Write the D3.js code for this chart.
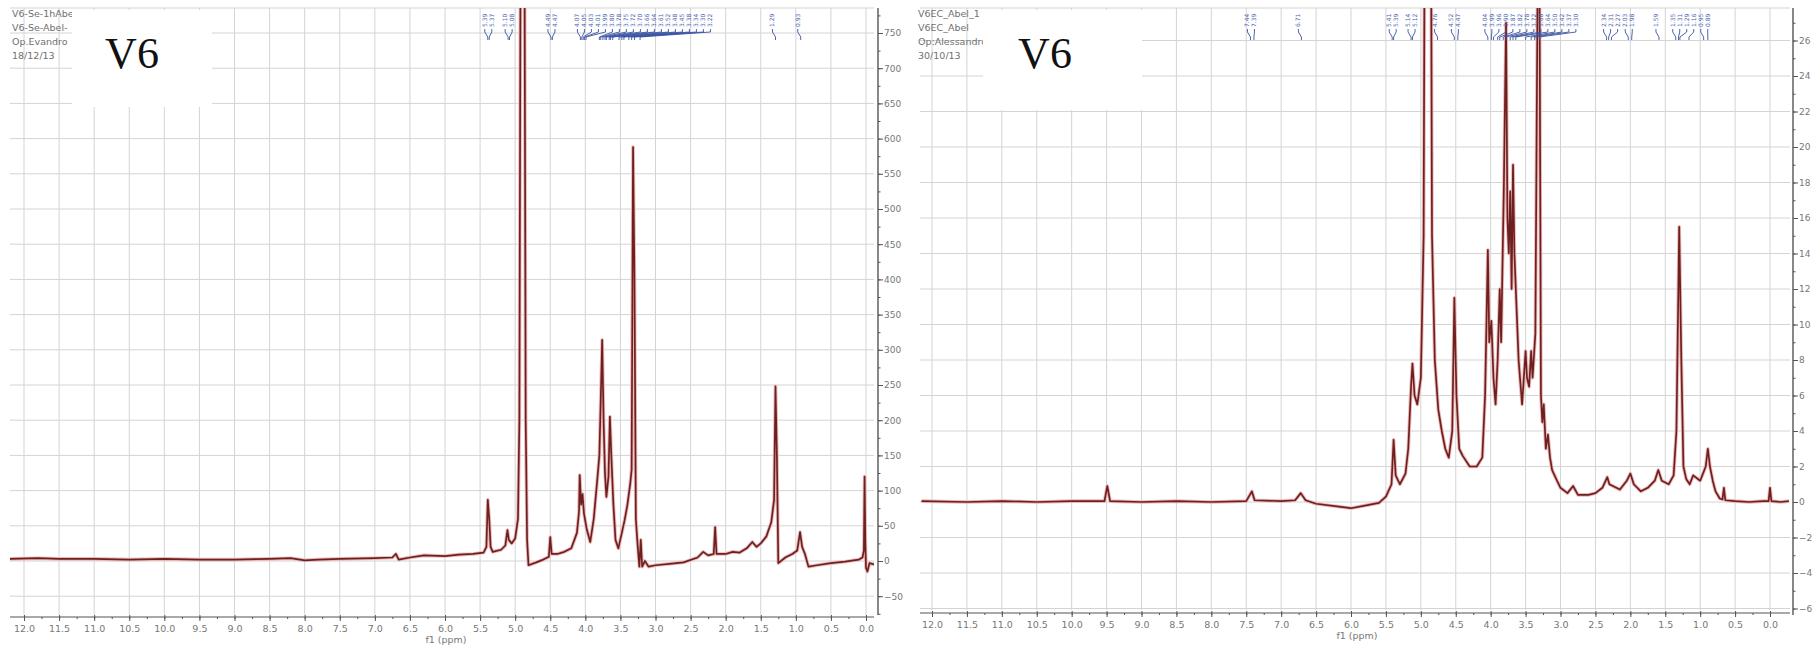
<!DOCTYPE html>
<html>
<head>
<meta charset="utf-8">
<script src="https://cdn.jsdelivr.net/npm/d3@7"></script>
<style>
    html, body { margin: 0; padding: 0; background: #fff; }
    svg { display: block; }
</style>
</head>
<body>
<div id="chart"></div>
<script>
// ---- data (ppm, intensity) ----

// left spectrum, intensity axis -50..750
const leftSpectrum = [
    [12.2, 3], [11.8, 4], [11.5, 3], [11.0, 3], [10.5, 2], [10.0, 3], [9.5, 2], [9.0, 2],
    [8.5, 3], [8.2, 4], [8.0, 1], [7.8, 2], [7.5, 3], [7.0, 4], [6.75, 5], [6.7, 10],
    [6.66, 2], [6.5, 5], [6.3, 8], [6.0, 7], [5.8, 9], [5.6, 10], [5.45, 12], [5.41, 20],
    [5.39, 87], [5.37, 60], [5.35, 20], [5.32, 13], [5.2, 16], [5.14, 22], [5.11, 44],
    [5.09, 30], [5.05, 25], [5.0, 32], [4.96, 60], [4.94, 200], [4.92, 1000], [4.87, 1000],
    [4.85, 200], [4.83, 30], [4.81, -6], [4.7, -2], [4.6, 2], [4.52, 6], [4.5, 34], [4.48, 10],
    [4.4, 10], [4.3, 13], [4.2, 18], [4.12, 40], [4.09, 70], [4.08, 122], [4.06, 80], [4.04, 95],
    [4.02, 68], [3.98, 45], [3.93, 27], [3.88, 60], [3.83, 115], [3.80, 150], [3.78, 230],
    [3.76, 314], [3.74, 200], [3.72, 125], [3.70, 91], [3.67, 120], [3.65, 205], [3.63, 150],
    [3.60, 80], [3.57, 30], [3.53, 18], [3.48, 40], [3.44, 58], [3.40, 80], [3.36, 110],
    [3.34, 130], [3.32, 588], [3.30, 400], [3.28, 60], [3.26, 30], [3.23, -8], [3.21, 30],
    [3.19, -8], [3.15, 0], [3.10, -8], [3.0, -6], [2.8, -4], [2.6, -2], [2.4, 5], [2.32, 13],
    [2.25, 8], [2.17, 10], [2.15, 48], [2.13, 10], [2.0, 10], [1.9, 13], [1.8, 12], [1.7, 18],
    [1.62, 27], [1.56, 20], [1.5, 25], [1.42, 35], [1.35, 55], [1.31, 87], [1.29, 248],
    [1.27, 150], [1.25, -3], [1.15, 5], [1.05, 10], [0.98, 15], [0.94, 41], [0.91, 20],
    [0.87, 10], [0.82, -8], [0.7, -6], [0.5, -3], [0.3, -1], [0.1, 2], [0.05, 5], [0.03, 15],
    [0.02, 120], [0.01, 30], [0.0, -10], [-0.02, -15], [-0.05, -3], [-0.12, -5]
];

// right spectrum, intensity axis -6..26
const rightSpectrum = [
    [12.15, 0.05], [11.5, 0.0], [11.0, 0.05], [10.5, 0.0], [10.0, 0.05], [9.53, 0.05], [9.49, 0.9],
    [9.45, 0.05], [9.0, 0.0], [8.5, 0.05], [8.0, 0.0], [7.5, 0.05], [7.42, 0.6], [7.38, 0.1],
    [7.0, 0.05], [6.8, 0.1], [6.72, 0.5], [6.65, 0.1], [6.5, -0.1], [6.2, -0.25], [6.0, -0.35],
    [5.8, -0.2], [5.6, -0.05], [5.5, 0.3], [5.42, 1.0], [5.39, 3.5], [5.36, 1.5], [5.3, 1.0],
    [5.22, 1.6], [5.18, 3.0], [5.14, 6.5], [5.12, 7.8], [5.09, 6.0], [5.05, 5.5], [5.0, 7.0],
    [4.96, 15], [4.94, 40], [4.86, 40], [4.84, 15], [4.80, 8], [4.75, 5.2], [4.7, 4.0],
    [4.65, 3.0], [4.6, 2.5], [4.55, 4.0], [4.52, 11.5], [4.49, 6], [4.45, 3.0], [4.4, 2.6],
    [4.3, 2.0], [4.2, 2.0], [4.12, 2.5], [4.08, 6], [4.04, 14.2], [4.02, 9], [3.99, 10.2],
    [3.96, 7], [3.93, 5.5], [3.9, 8], [3.87, 12], [3.85, 9], [3.81, 18], [3.78, 27], [3.76, 16],
    [3.74, 14], [3.72, 17.5], [3.70, 12], [3.68, 19], [3.66, 14], [3.63, 11], [3.6, 8],
    [3.55, 5.5], [3.5, 8.5], [3.48, 7], [3.45, 6.5], [3.42, 8.5], [3.40, 7], [3.36, 9.5],
    [3.31, 40], [3.28, 6], [3.26, 4.5], [3.24, 5.5], [3.21, 3], [3.18, 3.8], [3.15, 2.5],
    [3.12, 1.8], [3.05, 1.2], [3.0, 0.8], [2.9, 0.5], [2.82, 0.9], [2.75, 0.4], [2.6, 0.4],
    [2.5, 0.5], [2.4, 0.8], [2.33, 1.4], [2.3, 1.0], [2.25, 0.9], [2.15, 0.7], [2.05, 1.2],
    [2.0, 1.6], [1.95, 1.0], [1.85, 0.6], [1.75, 0.8], [1.65, 1.2], [1.6, 1.8], [1.55, 1.2],
    [1.45, 1.0], [1.38, 1.5], [1.34, 4], [1.30, 15.5], [1.27, 8], [1.24, 2], [1.2, 1.3],
    [1.15, 1.0], [1.1, 1.5], [1.0, 1.2], [0.96, 1.6], [0.92, 2.0], [0.89, 3.0], [0.86, 2.0],
    [0.82, 1.2], [0.78, 0.6], [0.72, 0.2], [0.68, 0.15], [0.66, 0.8], [0.64, 0.1], [0.5, 0.05],
    [0.3, 0.0], [0.1, 0.05], [0.02, 0.05], [0.0, 0.8], [-0.02, 0.05], [-0.15, 0.0], [-0.27, 0.05]
];

// peak picking labels (blue, at the top)
const leftPeakLabels = ["5.39", "5.37", "5.10", "5.08", "4.49", "4.47", "4.07", "4.05", "4.03",
    "4.01", "3.99", "3.80", "3.78", "3.75", "3.72", "3.70", "3.66", "3.64", "3.61", "3.52",
    "3.48", "3.45", "3.38", "3.34", "3.30", "3.22", "1.29", "0.93"];
const rightPeakLabels = ["9.49", "7.44", "7.39", "6.71", "5.41", "5.39", "5.14", "5.12", "4.76",
    "4.52", "4.47", "4.04", "3.99", "3.96", "3.90", "3.87", "3.82", "3.78", "3.72", "3.68",
    "3.64", "3.50", "3.42", "3.37", "3.30", "2.34", "2.31", "2.27", "2.03", "1.98", "1.59",
    "1.35", "1.31", "1.29", "1.16", "0.95", "0.89"];

// acquisition info in the corner of each plot
const leftHeader = ["V6-Se-1hAbel", "V6-Se-Abel-", "Op.Evandro", "18/12/13"];
const rightHeader = ["V6EC_Abel_1", "V6EC_Abel", "Op:Alessandro", "30/10/13"];
const sampleName = "V6";

// x ticks: 12.0 .. 0.0 every 0.5 ppm
const ppmTicks = d3.range(0, 24.5).map(i => 12 - i * 0.5);
const leftIntensityTicks = d3.range(-50, 751, 50);
const rightIntensityTicks = d3.range(-6, 27, 2);

const W = 1818, H = 649;
const svg = d3.select("#chart").append("svg")
    .attr("width", W)
    .attr("height", H)
    .style("font-family", "'DejaVu Sans', sans-serif");

const gridColor = "#d4d4d4";
const axisColor = "#555";
const tickTextColor = "#777";

function drawPanel(p) {
    const g = svg.append("g");
    const x = d3.scaleLinear().domain([12, 0]).range(p.xRange);
    const y = d3.scaleLinear().domain(p.yDomain).range(p.yRange);

    // grid
    g.append("g").selectAll("line.vgrid")
        .data(ppmTicks)
        .join("line")
        .attr("x1", d => x(d)).attr("x2", d => x(d))
        .attr("y1", p.top).attr("y2", p.bottom)
        .attr("stroke", gridColor);

    g.append("g").selectAll("line.hgrid")
        .data(p.yTicks)
        .join("line")
        .attr("x1", p.left).attr("x2", p.right)
        .attr("y1", d => y(d)).attr("y2", d => y(d))
        .attr("stroke", gridColor);

    g.append("line")
        .attr("x1", p.left).attr("x2", p.right)
        .attr("y1", p.top).attr("y2", p.top)
        .attr("stroke", gridColor);

    // spectrum, clipped to the plot
    const clipId = "clip-" + p.name;
    svg.append("clipPath").attr("id", clipId)
        .append("rect")
        .attr("x", p.left).attr("y", p.top)
        .attr("width", p.right - p.left).attr("height", p.bottom - p.top);

    const line = d3.line().x(d => x(d[0])).y(d => y(d[1]));
    const trace = g.append("g").attr("clip-path", `url(#${clipId})`);
    trace.append("path")
        .datum(p.spectrum)
        .attr("d", line)
        .attr("fill", "none")
        .attr("stroke", "#ecb9b9")
        .attr("stroke-width", 3.6)
        .attr("stroke-linejoin", "round");
    trace.append("path")
        .datum(p.spectrum)
        .attr("d", line)
        .attr("fill", "none")
        .attr("stroke", "#6e2020")
        .attr("stroke-width", 1.7)
        .attr("stroke-linejoin", "round");

    // x axis
    const xAxis = g.append("g").attr("transform", `translate(0,${p.xAxisY})`);
    xAxis.append("line")
        .attr("x1", p.left).attr("x2", p.right)
        .attr("stroke", axisColor).attr("stroke-width", 1.2);
    xAxis.call(d3.axisBottom(x).tickValues(d3.range(0, 48.5).map(i => 12 - i * 0.25)).tickSize(2).tickFormat(""))
        .call(a => a.select(".domain").remove())
        .call(a => a.selectAll(".tick line").attr("stroke", axisColor));
    const xMajor = g.append("g").attr("transform", `translate(0,${p.xAxisY})`)
        .call(d3.axisBottom(x).tickValues(ppmTicks).tickSize(4).tickFormat(d3.format(".1f")))
        .call(a => a.select(".domain").remove());
    xMajor.selectAll(".tick line").attr("stroke", axisColor).attr("y1", -2);
    xMajor.selectAll(".tick text")
        .attr("fill", tickTextColor)
        .attr("font-size", 9.5)
        .attr("font-family", "'DejaVu Sans', sans-serif")
        .attr("y", 8);

    g.append("text")
        .attr("x", p.unitX).attr("y", p.xAxisY + 26)
        .attr("text-anchor", "middle")
        .attr("font-size", 9.5)
        .attr("fill", tickTextColor)
        .text("f1 (ppm)");

    // y axis on the right
    const yStep = p.yTicks[1] - p.yTicks[0];
    const yMinor = d3.range(p.yDomainFull[0], p.yDomainFull[1] + 1e-9, yStep / 2);
    const yAxis = g.append("g").attr("transform", `translate(${p.yAxisX},0)`);
    yAxis.append("line")
        .attr("y1", p.top).attr("y2", p.yAxisBottom)
        .attr("stroke", axisColor).attr("stroke-width", 1.4);
    yAxis.call(d3.axisRight(y).tickValues(yMinor).tickSize(2.5).tickFormat(""))
        .call(a => a.select(".domain").remove())
        .call(a => a.selectAll(".tick line").attr("stroke", axisColor));
    const yMajor = g.append("g").attr("transform", `translate(${p.yAxisX},0)`)
        .call(d3.axisRight(y).tickValues(p.yTicks).tickSize(5).tickPadding(1))
        .call(a => a.select(".domain").remove());
    yMajor.selectAll(".tick line").attr("stroke", axisColor);
    yMajor.selectAll(".tick text")
        .attr("fill", tickTextColor)
        .attr("font-size", 9)
        .attr("font-family", "'DejaVu Sans', sans-serif");

    // peak labels: spread left to right, then tie each to its shift
    const labels = p.peakLabels.map(s => ({ text: s, tx: x(+s) }));
    labels.sort((a, b) => a.tx - b.tx);
    let prev = -Infinity;
    labels.forEach(d => {
        d.lx = Math.max(d.tx - 3, prev + 7);
        prev = d.lx;
    });
    const pk = g.append("g");
    pk.selectAll("text")
        .data(labels)
        .join("text")
        .attr("transform", d => `translate(${d.lx + 2},27) rotate(-90)`)
        .attr("font-size", 6)
        .attr("fill", "#4a62ae")
        .text(d => d.text);
    pk.selectAll("path")
        .data(labels)
        .join("path")
        .attr("d", d => `M${d.lx},29 L${d.lx},32 L${d.tx},37 L${d.tx},40`)
        .attr("fill", "none")
        .attr("stroke", "#3a52a2")
        .attr("stroke-width", 0.9);

    // header text, partly hidden by the sample label box
    g.append("g").selectAll("text")
        .data(p.header)
        .join("text")
        .attr("x", p.headerX)
        .attr("y", (d, i) => 17 + i * 14)
        .attr("font-size", 9.5)
        .attr("fill", "#707070")
        .text(d => d);

    g.append("rect")
        .attr("x", p.box[0]).attr("y", p.box[1])
        .attr("width", p.box[2]).attr("height", p.box[3])
        .attr("fill", "#fff");
    g.append("text")
        .attr("x", p.nameX)
        .attr("y", 68)
        .attr("text-anchor", "middle")
        .attr("font-family", "'Liberation Serif', 'DejaVu Serif', serif")
        .attr("font-size", 44)
        .attr("fill", "#111")
        .text(sampleName);
}

drawPanel({
    name: "left",
    spectrum: leftSpectrum,
    xRange: [24, 866],
    yDomain: [0, 750], yRange: [561, 33],
    yDomainFull: [-75, 775],
    yTicks: leftIntensityTicks,
    left: 10, right: 874, top: 8, bottom: 615,
    xAxisY: 617, yAxisX: 878, yAxisBottom: 615,
    unitX: 446,
    peakLabels: leftPeakLabels,
    header: leftHeader, headerX: 12,
    box: [72, 10, 140, 97], nameX: 132
});

drawPanel({
    name: "right",
    spectrum: rightSpectrum,
    xRange: [932, 1770],
    yDomain: [0, 26], yRange: [502, 40.5],
    yDomainFull: [-6, 27],
    yTicks: rightIntensityTicks,
    left: 920, right: 1790, top: 8, bottom: 610,
    xAxisY: 613, yAxisX: 1793, yAxisBottom: 615,
    unitX: 1357,
    peakLabels: rightPeakLabels,
    header: rightHeader, headerX: 918,
    box: [983, 10, 159, 100], nameX: 1045
});
</script>
</body>
</html>
